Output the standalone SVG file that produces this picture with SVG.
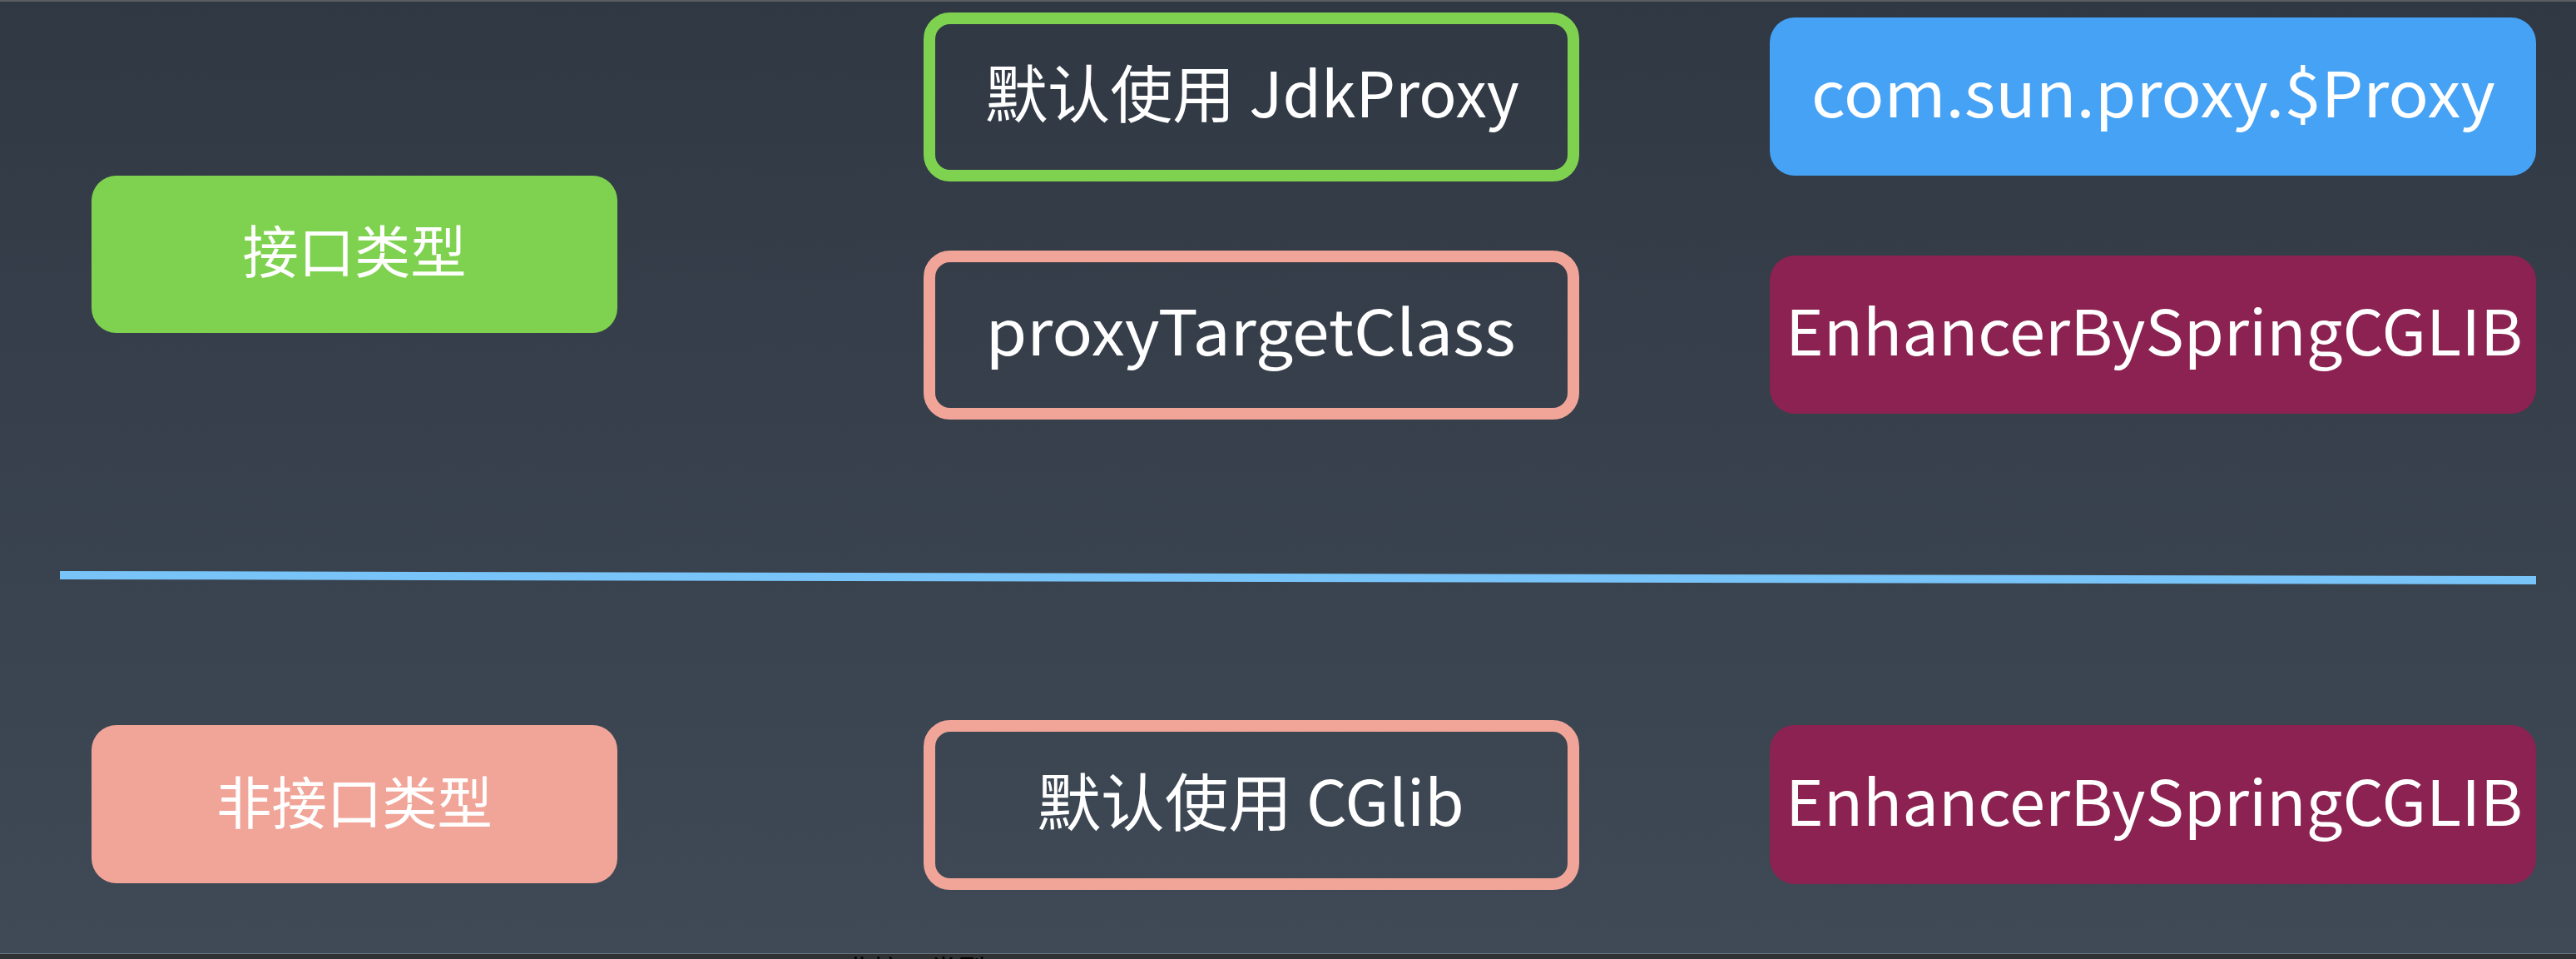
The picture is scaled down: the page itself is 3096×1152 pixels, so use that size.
<svg xmlns="http://www.w3.org/2000/svg" width="3096" height="1152" viewBox="0 0 3096 1152">
  <defs>
    <linearGradient id="bg" x1="0" y1="0" x2="0" y2="1">
      <stop offset="0" stop-color="#303843"/>
      <stop offset="1" stop-color="#3f4a56"/>
    </linearGradient>
  </defs>
  <style>
    .t { font-family: "Noto Sans CJK SC", "Noto Sans", sans-serif; fill: #ffffff; text-anchor: middle; }
    .l { font-size: 68px; }
    .m { font-size: 75px; }
    .ol { fill: none; stroke-width: 14; }
  </style>
  <rect x="0" y="0" width="3096" height="1152" fill="url(#bg)"/>
  <rect x="0" y="0" width="3096" height="2" fill="#5a5e63"/>
  <rect x="0" y="1146" width="3096" height="6" fill="#2f3133"/>
  <rect x="0" y="1145" width="3096" height="1" fill="#6b7580"/>
  <text x="1100" y="1178" font-family="Noto Sans CJK SC, sans-serif" font-size="34" fill="#000000" text-anchor="middle">非接口类型</text>

  <g id="connectors">
    <line x1="72" y1="691" x2="3048" y2="697" stroke="#78c3f7" stroke-width="10"/>
  </g>

  <g id="interface-type">
    <rect x="110" y="211" width="632" height="189" rx="30" fill="#7fd250"/>
    <text class="t l" x="426" y="328" textLength="269" lengthAdjust="spacingAndGlyphs">接口类型</text>
  </g>

  <g id="jdk-proxy">
    <rect class="ol" x="1117" y="22" width="774" height="189" rx="25" stroke="#7fd250"/>
    <text class="t m" x="1505" y="141" textLength="642" lengthAdjust="spacingAndGlyphs">默认使用 JdkProxy</text>
  </g>

  <g id="sun-proxy">
    <rect x="2127" y="21" width="921" height="190" rx="30" fill="#45a2f5"/>
    <text class="t m" x="2588" y="141" textLength="822" lengthAdjust="spacingAndGlyphs">com.sun.proxy.$Proxy</text>
  </g>

  <g id="proxy-target-class">
    <rect class="ol" x="1117" y="308" width="774" height="189" rx="25" stroke="#f0a598"/>
    <text class="t m" x="1503" y="427" textLength="637" lengthAdjust="spacingAndGlyphs">proxyTargetClass</text>
  </g>

  <g id="cglib-top">
    <rect x="2127" y="307" width="921" height="190" rx="30" fill="#8b2251"/>
    <text class="t m" x="2589" y="427" textLength="886" lengthAdjust="spacingAndGlyphs">EnhancerBySpringCGLIB</text>
  </g>

  <g id="non-interface-type">
    <rect x="110" y="871" width="632" height="190" rx="30" fill="#f0a598"/>
    <text class="t l" x="426" y="990" textLength="332" lengthAdjust="spacingAndGlyphs">非接口类型</text>
  </g>

  <g id="default-cglib">
    <rect class="ol" x="1117" y="872" width="774" height="190" rx="25" stroke="#f0a598"/>
    <text class="t m" x="1503" y="992" textLength="513" lengthAdjust="spacingAndGlyphs">默认使用 CGlib</text>
  </g>

  <g id="cglib-bottom">
    <rect x="2127" y="871" width="921" height="191" rx="30" fill="#8b2251"/>
    <text class="t m" x="2589" y="992" textLength="886" lengthAdjust="spacingAndGlyphs">EnhancerBySpringCGLIB</text>
  </g>
</svg>
